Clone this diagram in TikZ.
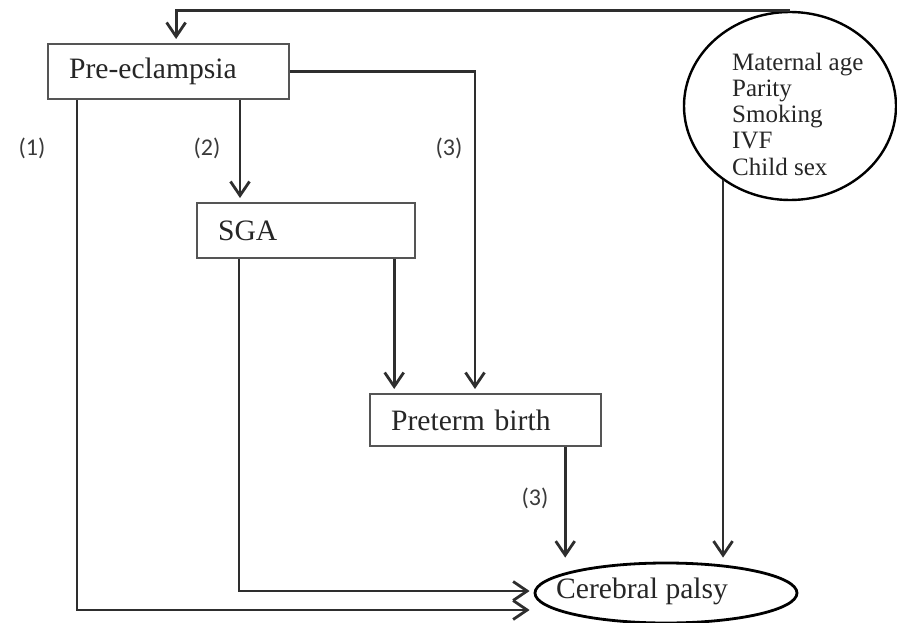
\documentclass[tikz,border=0pt]{standalone}
\usepackage{fontspec}
\setmainfont{Liberation Serif}
\newfontfamily\labelfont{Carlito}
\usetikzlibrary{arrows.meta,shapes.geometric,calc}
\definecolor{txt}{HTML}{262626}
\definecolor{linegray}{HTML}{2E2E2E}
\definecolor{boxgray}{HTML}{555555}
\definecolor{numgray}{HTML}{3A3A3A}
\begin{document}
\begin{tikzpicture}[x=1pt,y=-1pt,
  box/.style={draw=boxgray, line width=2.2pt, anchor=north west, inner xsep=21pt,
    inner ysep=0pt, align=left, text=txt, font=\fontsize{29.6}{32}\selectfont},
  link/.style={draw=linegray, line width=2.8pt},
  arr/.style={link, shorten >=4pt,
    -{Straight Barb[length=14pt,width=19pt,line width=2.8pt]}},
  num/.style={font=\labelfont\fontsize{24}{26}\selectfont, text=numgray}]
\useasboundingbox (0,0) rectangle (897,623);

% boxes
\node[box, text width=199pt, minimum height=55pt] (pre) at (47,43) {Pre-eclampsia};
\node[box, text width=176pt, minimum height=55pt] (sga) at (196,202) {SGA};
\node[box, text width=189pt, minimum height=52pt] (ptb) at (369,393) {Preterm birth};

% outcome
\node[draw=black, line width=2.8pt, ellipse, minimum width=262pt, minimum height=60pt,
  inner sep=0pt] (cp) at (666,593) {};
\node[anchor=west, inner sep=0pt, text=txt, font=\fontsize{29.6}{32}\selectfont]
  (cptext) at (556,591) {Cerebral palsy};

% covariates
\node[draw=black, line width=2.4pt, ellipse, minimum width=212pt, minimum height=188pt,
  inner sep=0pt] (cov) at (790,106) {};
\node[anchor=north west, inner sep=0pt, align=left, text=txt,
  font=\fontsize{25}{26.25}\selectfont] (covtext) at (732,52.5)
  {Maternal age\\Parity\\Smoking\\IVF\\Child sex};

% connectors
\draw[arr] (cov.north) -| ([xshift=7.5pt]pre.north);
\draw[arr] ([xshift=193pt]pre.south west) -- ([xshift=44pt]sga.north west);
\draw[arr] (pre.east) -| ([xshift=106pt]ptb.north west);
\draw[arr] ([xshift=-22pt]sga.south east) -- ([xshift=-22pt]sga.south east |- ptb.north);
\draw[arr] ([xshift=-37pt]ptb.south east) -- ([xshift=-37pt]ptb.south east |- cp.north);
\draw[arr] (cov.228) -- (cov.228 |- cp.north);
\draw[arr] ([xshift=43pt]sga.south west) |- ([yshift=2pt]cp.west);
\draw[arr] ([xshift=30pt]pre.south west) |- ([yshift=-17pt]cp.west);

% path labels
\node[num] (n1) at (32,148) {(1)};
\node[num] (n2) at (207,148) {(2)};
\node[num] (n3a) at (449,148) {(3)};
\node[num] (n3b) at (535,498) {(3)};
\end{tikzpicture}
\end{document}
